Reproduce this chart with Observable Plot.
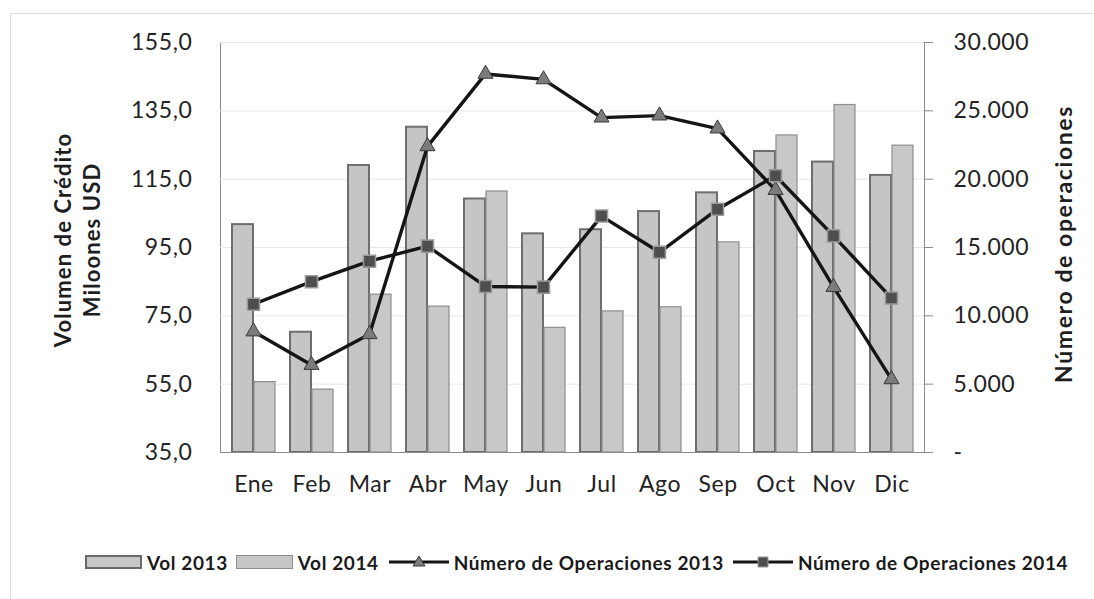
<!DOCTYPE html>
<html>
<head>
<meta charset="utf-8">
<script src="https://cdn.jsdelivr.net/npm/d3@7"></script>
<script src="https://cdn.jsdelivr.net/npm/@observablehq/plot@0.6"></script>
<style>
  body { margin: 0; background: #fff; font-family: Lato, sans-serif; }
  #wrap { position: relative; width: 1094px; height: 599px; overflow: hidden; background: #fff; }
  #frame { position: absolute; left: 10px; top: 13px; width: 1200px; height: 800px; border: 1px solid #dedede; }
  .layer { position: absolute; left: 0; top: 0; }
  .layer svg text { fill: #232323; letter-spacing: 0.6px; }
  .ytitle { position: absolute; font-weight: 700; font-size: 22px; color: #1e1e1e; text-align: center;
            white-space: nowrap; transform: translate(-50%, -50%) rotate(-90deg); letter-spacing: 1.1px; }
  #legend { position: absolute; left: 85px; top: 552px; display: flex; align-items: center; height: 20px;
            font-weight: 700; font-size: 19px; color: #1a1a1a; letter-spacing: 0.6px; white-space: nowrap; }
  #legend .sw { display: inline-block; box-sizing: border-box; width: 57px; height: 14px; background: #c6c6c6; }
  #legend .item { display: flex; align-items: center; }
  #legend .lab { margin-left: 5px; }
</style>
</head>
<body>
<div id="wrap">
  <div id="frame"></div>
  <div id="plotA" class="layer"></div>
  <div id="plotB" class="layer"></div>
  <div class="ytitle" style="left:77px; top:240px; line-height:29px;">Volumen de Crédito<br>Miloones USD</div>
  <div class="ytitle" style="left:1063px; top:244px; font-size:23px; letter-spacing:1.6px;">Número de operaciones</div>
  <div id="legend"></div>
</div>
<script>
// ---- data ----
const months = ["Ene", "Feb", "Mar", "Abr", "May", "Jun", "Jul", "Ago", "Sep", "Oct", "Nov", "Dic"];
const vol2013 = [101.7, 70.2, 119.0, 130.2, 109.2, 99.0, 100.2, 105.5, 111.0, 123.1, 120.0, 116.1];
const vol2014 = [55.6, 53.4, 81.2, 77.7, 111.4, 71.5, 76.3, 77.5, 96.5, 127.8, 136.7, 124.8];
const ops2013 = [8850, 6400, 8650, 22400, 27700, 27300, 24500, 24650, 23700, 19200, 12100, 5350];
const ops2014 = [10850, 12500, 14000, 15100, 12150, 12100, 17300, 14650, 17800, 20250, 15850, 11300];
const leftTicks = [35, 55, 75, 95, 115, 135, 155];
const rightTicks = [0, 5000, 10000, 15000, 20000, 25000, 30000];
const seriesNames = ["Vol 2013", "Vol 2014", "Número de Operaciones 2013", "Número de Operaciones 2014"];

// ---- table ----
const rows = months.map((m, i) => ({month: m, v13: vol2013[i], v14: vol2014[i], o13: ops2013[i], o14: ops2014[i]}));

const W = 1094, H = 599;
const margins = {marginLeft: 220, marginRight: 170, marginTop: 42, marginBottom: 147};
const xBase = {domain: months, paddingInner: 0.26, paddingOuter: 0.13};
const yMin = leftTicks[0], yMax = leftTicks[leftTicks.length - 1];
const half = 22;

const fmtLeft = d => d3.format(".1f")(d).replace(".", ",");
const fmtRight = d => d === 0 ? "-" : d3.format(",")(d).replace(/,/g, ".");

const plotA = Plot.plot({
  width: W, height: H, ...margins,
  style: {fontFamily: "Lato, sans-serif", fontSize: "23px", color: "#8a8a8a", background: "transparent", overflow: "visible"},
  x: {...xBase, axis: "bottom", tickSize: 0, tickPadding: 23, label: null},
  y: {domain: [yMin, yMax], ticks: leftTicks, tickFormat: fmtLeft, tickSize: 0, tickPadding: 28, line: true, label: null},
  marks: [
    Plot.ruleY(leftTicks.slice(1), {stroke: "#e6e6e6", strokeWidth: 1}),
    Plot.barY(rows, {x: "month", y1: () => yMin, y2: "v13", insetRight: half, fill: "#c5c5c5", stroke: "#6e6e6e", strokeWidth: 2}),
    Plot.barY(rows, {x: "month", y1: () => yMin, y2: "v14", insetLeft: half, fill: "#c8c8c8", stroke: "#8e8e8e", strokeWidth: 1.2}),
    Plot.ruleY([yMin], {stroke: "#8a8a8a", strokeWidth: 1.2})
  ]
});
document.getElementById("plotA").appendChild(plotA);

const plotB = Plot.plot({
  width: W, height: H, ...margins,
  style: {fontFamily: "Lato, sans-serif", fontSize: "23px", color: "#8a8a8a", background: "transparent", overflow: "visible"},
  x: {...xBase, axis: null},
  y: {domain: [rightTicks[0], rightTicks[rightTicks.length - 1]], axis: "right", ticks: rightTicks, tickFormat: fmtRight,
      tickSize: 8, tickPadding: 21, line: true, label: null},
  marks: [
    Plot.line(rows, {x: "month", y: "o13", stroke: "#151515", strokeWidth: 3.4}),
    Plot.dot(rows, {x: "month", y: "o13", symbol: "triangle", r: 5.6, fill: "#7c7c7c", stroke: "#3a3a3a", strokeWidth: 1}),
    Plot.line(rows, {x: "month", y: "o14", stroke: "#151515", strokeWidth: 3.4}),
    Plot.dot(rows, {x: "month", y: "o14", symbol: "square", r: 6.8, fill: "#4e4e4e", stroke: "#9a9a9a", strokeWidth: 1.5})
  ]
});
document.getElementById("plotB").appendChild(plotB);

// ---- legend ----
const legend = document.getElementById("legend");
function lineSwatch(kind) {
  const ns = "http://www.w3.org/2000/svg";
  const s = document.createElementNS(ns, "svg");
  s.setAttribute("width", 60); s.setAttribute("height", 16);
  const l = document.createElementNS(ns, "line");
  l.setAttribute("x1", 0); l.setAttribute("x2", 60); l.setAttribute("y1", 8); l.setAttribute("y2", 8);
  l.setAttribute("stroke", "#151515"); l.setAttribute("stroke-width", 3);
  s.appendChild(l);
  const m = document.createElementNS(ns, "path");
  if (kind === "triangle") {
    m.setAttribute("d", "M30,2 L36,12 L24,12 Z");
    m.setAttribute("fill", "#7c7c7c"); m.setAttribute("stroke", "#3a3a3a");
  } else {
    m.setAttribute("d", "M25,3 H35 V13 H25 Z");
    m.setAttribute("fill", "#4e4e4e"); m.setAttribute("stroke", "#9a9a9a");
  }
  s.appendChild(m);
  return s;
}
const gaps = [0, 8, 10, 9];
seriesNames.forEach((name, i) => {
  const item = document.createElement("div");
  item.className = "item";
  item.style.marginLeft = gaps[i] + "px";
  let sw;
  if (i < 2) {
    sw = document.createElement("span");
    sw.className = "sw";
    sw.style.border = i === 0 ? "2px solid #6a6a6a" : "1px solid #8e8e8e";
  } else {
    sw = lineSwatch(i === 2 ? "triangle" : "square");
  }
  item.appendChild(sw);
  const lab = document.createElement("span");
  lab.className = "lab";
  lab.textContent = name;
  item.appendChild(lab);
  legend.appendChild(item);
});
</script>
</body>
</html>
